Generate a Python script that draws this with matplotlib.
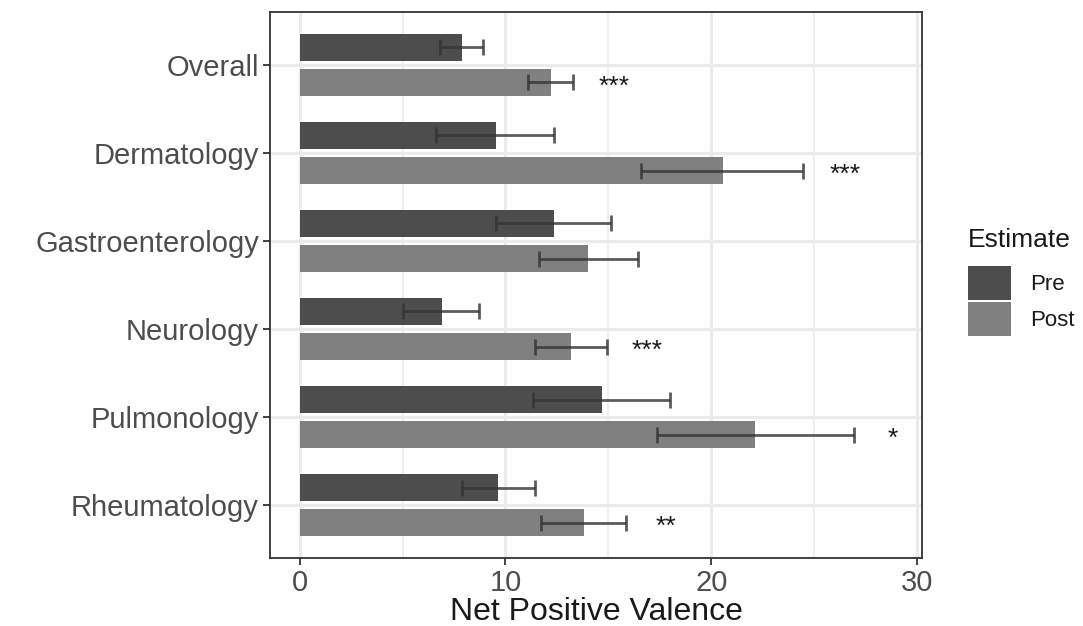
import numpy as np
import matplotlib.pyplot as plt
from matplotlib.patches import Patch

plt.rcParams['font.family'] = ['Liberation Sans', 'DejaVu Sans']

categories = ['Overall', 'Dermatology', 'Gastroenterology', 'Neurology', 'Pulmonology', 'Rheumatology']

pre_mean = [7.90, 9.52, 12.34, 6.90, 14.68, 9.66]
pre_low = [6.80, 6.65, 9.52, 5.02, 11.36, 7.88]
pre_high = [8.90, 12.38, 15.13, 8.74, 17.99, 11.44]

post_mean = [12.20, 20.55, 14.02, 13.18, 22.15, 13.80]
post_low = [11.12, 16.58, 11.65, 11.46, 17.38, 11.75]
post_high = [13.29, 24.44, 16.44, 14.92, 26.94, 15.86]

stars = ['***', '***', '', '***', '*', '**']
star_x = [15.3, 26.5, 0, 16.9, 28.8, 17.8]

pre_color = '#4d4d4d'
post_color = '#808080'
err_color = '#333333'
text_color = '#4d4d4d'

fig = plt.figure(figsize=(10.83, 6.26), dpi=100)
ax = fig.add_axes([0.2493, 0.1086, 0.8513 - 0.2493, 0.9808 - 0.1086])

y = np.arange(len(categories))
dodge = 0.2
height = 0.31

pre_mean = np.array(pre_mean)
post_mean = np.array(post_mean)
pre_err = [pre_mean - np.array(pre_low), np.array(pre_high) - pre_mean]
post_err = [post_mean - np.array(post_low), np.array(post_high) - post_mean]

ax.barh(y - dodge, pre_mean, height=height, color=pre_color, zorder=2)
ax.barh(y + dodge, post_mean, height=height, color=post_color, zorder=2)
for mean, pos, err in [(pre_mean, y - dodge, pre_err), (post_mean, y + dodge, post_err)]:
    ax.errorbar(mean, pos, xerr=err, fmt='none', ecolor=err_color,
                elinewidth=2, capsize=5.5, capthick=2, zorder=3, alpha=0.8)

for i, s in enumerate(stars):
    if s:
        ax.text(star_x[i], y[i] + dodge + 0.05, s, ha='center', va='center',
                fontsize=19, color='#1a1a1a', zorder=4)

ax.set_ylim(len(categories) - 0.4, -0.6)
ax.set_xlim(-1.44, 30.24)
ax.set_yticks(y)
ax.set_yticklabels(categories)
ax.set_xticks([0, 10, 20, 30])
ax.set_xticks([5, 15, 25], minor=True)

ax.grid(True, which='major', color='#ebebeb', linewidth=2.2, zorder=0)
ax.grid(True, which='minor', axis='x', color='#ebebeb', linewidth=1.1, zorder=0)
ax.set_axisbelow(True)

ax.tick_params(axis='both', which='major', labelsize=21, labelcolor=text_color,
               color='#333333', length=5, width=1.3, pad=3)
ax.tick_params(axis='x', which='minor', length=0)
for sp in ax.spines.values():
    sp.set_color('#333333')
    sp.set_linewidth(1.3)

ax.set_xlabel('Net Positive Valence', fontsize=23, color='#1a1a1a', labelpad=0)

fig.text(968 / 1083, 1 - 240 / 626, 'Estimate', fontsize=19, color='#1a1a1a',
         ha='left', va='center')
handles = [Patch(facecolor=pre_color, label='Pre'), Patch(facecolor=post_color, label='Post')]
leg = fig.legend(handles=handles, loc='upper left',
                 bbox_to_anchor=(968 / 1083, 1 - 266 / 626), frameon=False, fontsize=16,
                 handlelength=1.94, handleheight=2.0,
                 handletextpad=0.86, labelspacing=0.08,
                 borderaxespad=0.0, borderpad=0.0)
for t in leg.get_texts():
    t.set_color('#1a1a1a')

fig.savefig('out.png', dpi=100)
